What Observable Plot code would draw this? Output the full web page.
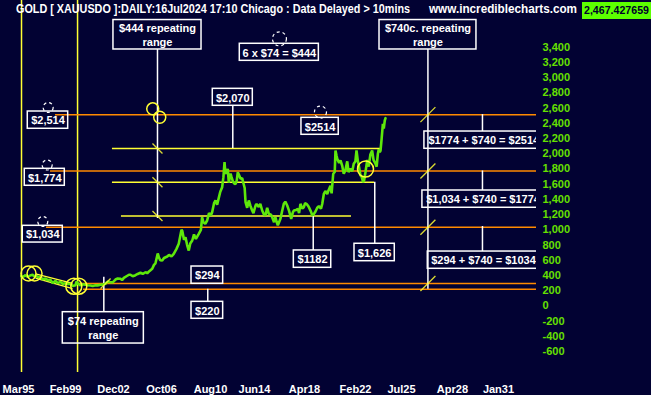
<!DOCTYPE html>
<html>
<head>
<meta charset="utf-8">
<script src="https://cdn.jsdelivr.net/npm/d3@7"></script>
<script src="https://cdn.jsdelivr.net/npm/@observablehq/plot@0.6"></script>
<style>
  html, body { margin: 0; padding: 0; background: #020233; }
  #wrap { position: relative; width: 651px; height: 395px; overflow: hidden; }
  .h { position: absolute; top: 2px; font: bold 12px "Liberation Sans", Arial, sans-serif; color: #fff;
       white-space: nowrap; transform-origin: 0 0; line-height: 15px; }
  #price { position: absolute; left: 582px; top: 2px; width: 69px; height: 17px; background: #5cff00; }
  #priceTxt { position: absolute; left: 2px; top: 2px; font: bold 11px "Liberation Sans", Arial, sans-serif;
       color: #00002a; white-space: nowrap; transform-origin: 0 0; line-height: 13px; }
</style>
</head>
<body>
<div id="wrap">
  <div id="chart"></div>
  <div id="title" class="h" style="left:16px"></div>
  <div id="site" class="h" style="left:429px"></div>
  <div id="price"><div id="priceTxt"></div></div>
</div>
<script>
// ---------- header texts ----------
const titleText = "GOLD [ XAUUSDO ]:DAILY:16Jul2024 17:10 Chicago : Data Delayed > 10mins";
const siteText = "www.incrediblecharts.com";
const lastPrice = "2,467.427659";

// ---------- price series (decimal year, USD) ----------
const years = [
  1995.39,1995.55,1995.73,1995.85,1995.97,1996.10,1996.29,1996.40,1996.53,1996.70,1996.93,
  1997.10,1997.33,1997.50,1997.73,1997.90,1998.13,1998.30,1998.53,1998.70,1998.93,
  1999.10,1999.33,1999.50,1999.73,1999.80,1999.95,2000.13,2000.30,2000.53,2000.70,2000.93,
  2001.10,2001.33,2001.50,2001.73,2001.90,2002.12,2002.30,2002.52,2002.70,2002.92,
  2003.10,2003.32,2003.45,2003.59,2003.80,2004.00,2004.12,2004.30,2004.52,2004.70,2004.92,
  2005.10,2005.32,2005.46,2005.65,2005.86,2006.00,2006.12,2006.30,2006.39,2006.50,2006.66,2006.80,
  2007.06,2007.20,2007.40,2007.58,2007.80,2007.98,2008.10,2008.20,2008.26,2008.40,2008.52,2008.65,2008.78,2008.90,
  2009.06,2009.20,2009.35,2009.58,2009.75,2009.85,2009.95,2010.10,2010.25,2010.40,2010.55,2010.65,2010.80,2010.92,
  2011.05,2011.18,2011.30,2011.45,2011.55,2011.64,2011.70,2011.80,2011.90,2011.98,
  2012.12,2012.20,2012.33,2012.45,2012.52,2012.62,2012.70,2012.80,2012.92,
  2013.05,2013.13,2013.25,2013.32,2013.45,2013.58,2013.70,2013.85,2013.95,
  2014.12,2014.20,2014.38,2014.50,2014.65,2014.80,2014.91,
  2015.05,2015.18,2015.35,2015.45,2015.60,2015.71,2015.80,2015.90,
  2016.00,2016.11,2016.25,2016.38,2016.50,2016.65,2016.80,2016.97,
  2017.10,2017.18,2017.35,2017.50,2017.60,2017.71,2017.85,2017.98,
  2018.08,2018.19,2018.30,2018.38,2018.55,2018.65,2018.75,2018.91,
  2019.05,2019.18,2019.35,2019.45,2019.58,2019.70,2019.85,2019.95,
  2020.11,2020.20,2020.33,2020.45,2020.51,2020.60,2020.65,2020.80,2020.91,
  2021.05,2021.17,2021.30,2021.45,2021.55,2021.71,2021.85,2021.97,
  2022.10,2022.19,2022.30,2022.37,2022.50,2022.60,2022.72,2022.80,2022.91,
  2023.05,2023.17,2023.30,2023.44,2023.55,2023.71,2023.80,2023.90,2023.97,
  2024.05,2024.11,2024.20,2024.30,2024.37,2024.45,2024.51
];
const prices = [
  391,384,404,388,387,400,409,392,396,384,373,
  352,360,340,343,300,330,300,317,290,299,
  288,288,262,273,320,288,269,285,278,272,269,
  262,273,270,278,280,291,320,312,310,347,
  360,357,340,368,390,410,410,390,404,420,436,
  420,443,430,460,488,540,560,690,640,600,597,630,
  650,670,650,685,750,817,920,1000,988,870,904,800,728,820,
  860,940,880,948,1000,1166,1100,1080,1123,1220,1190,1232,1350,1386,
  1330,1420,1500,1560,1692,1889,1760,1737,1802,1620,
  1740,1692,1626,1605,1600,1650,1758,1720,1671,
  1680,1626,1550,1363,1290,1386,1320,1254,1220,
  1320,1340,1300,1342,1254,1200,1189,
  1290,1211,1200,1166,1100,1166,1110,1060,
  1100,1145,1250,1342,1370,1320,1250,1145,
  1230,1254,1260,1276,1220,1342,1280,1298,
  1350,1342,1320,1298,1240,1190,1200,1240,
  1290,1310,1280,1340,1474,1510,1470,1517,
  1580,1480,1737,1760,2043,1970,1933,1880,1911,
  1840,1737,1780,1900,1760,1802,1770,1868,
  1900,2043,1900,1850,1720,1700,1626,1650,1760,
  1920,1830,1990,2043,1920,1868,1830,2000,2060,
  2020,2040,2200,2393,2330,2437,2467
];

// ---------- axis ticks ----------
const yTicks = [-600,-400,-200,0,200,400,600,800,1000,1200,1400,1600,1800,2000,2200,2400,2600,2800,3000,3200,3400];
const xTickYears = [1995.17,1998.93,2002.76,2006.60,2010.52,2014.03,2018.03,2022.11,2025.79,2029.86,2033.54];
const xTickLabels = ["Mar95","Feb99","Dec02","Oct06","Aug10","Jun14","Apr18","Feb22","Jul25","Apr28","Jan31"];

// ---------- annotation levels ----------
const orangeLevels = [2514, 1774, 1034, 294, 220];
const orangeFrom   = [1998.13, 1997.73, 1997.41, 1999.97, 2000.37];
const yellowLevels = [2070, 1626, 1182];
const yellowFrom   = [2002.68, 2002.68, 2003.40];
const yellowTo     = [2024.11, 2023.63, 2021.79];
const yellowVerticals = [1995.41, 1999.89];

// labelled boxes
const boxLabels = ["$444 repeating\nrange","$740c. repeating\nrange","6 x $74 = $444","$2,070","$2514",
                   "$2,514","$1,774","$1,034","$294","$220","$1182","$1,626","$74 repeating\nrange"];
const boxX1 = [2002.76,2024.03,2012.86,2010.70,2017.79,1995.91,1995.67,1995.51,2009.00,2009.00,2017.18,2022.03,1998.71];
const boxX2 = [2009.80,2031.78,2019.18,2013.90,2020.77,1999.14,1998.87,1998.71,2011.53,2011.53,2020.17,2025.25,2005.19];
const boxTop = [3757,3757,3445,2853,2472,2555,1802,1053,518,54,729,817,-82];
const boxBot = [3370,3370,3221,2630,2249,2328,1579,833,291,-169,501,588,-494];

// right-hand sums (boxes cut at the plot edge)
const sumLabels = ["$1774 + $740 = $2514","$1,034 + $740 = $1774","$294 + $740 = $1034"];
const sumX1 = [2027.62, 2027.46, 2027.89];
const sumTextX = [2027.94, 2027.76, 2028.16];
const sumTop = [2292, 1517, 715];
const sumBot = [2065, 1290, 488];

// white connectors
const connX  = [2006.28,2027.90,2012.30,2018.73,2023.65,2010.30,2001.99,2032.26,2032.26,2032.26];
const connV1 = [3370,3370,2630,1182,1626,220,378,2514,1774,1044];
const connV2 = [1149,220,2070,729,817,54,-82,2292,1517,715];

// yellow circles
const ringX = [2005.90,2006.46,1995.97,1996.45,1999.59,1999.99,2022.91];
const ringV = [2590,2480,426,426,259,259,1799];
const ringR = [6,6,7.5,7.5,8,8,8];

// dashed white circles
const dashX = [1997.54,1997.46,1997.11,2016.03,2019.31];
const dashV = [2608,1852,1110,3510,2548];
const dashR = [5,5,5,7,6];

// slash marks: centre, direction (+1 = "/", -1 = "\"), half size in px
const slashX = [2006.28,2006.28,2006.28,2027.90,2027.90,2027.90,2027.90,2002.13];
const slashV = [2070,1626,1182,2514,1774,1034,294,294];
const slashDir = [-1,-1,-1,1,1,1,1,1];
const slashHalf = [5,5,5,7.5,7.5,7.5,7.5,5];

// channel lines
const chanX1 = [1996.53,1996.53], chanV1 = [420,367];
const chanX2 = [1999.49,1999.49], chanV2 = [295,229];

// ---------- build ----------
const navy = "#020233", orange = "#ff8a00", yellow = "#ffff33", green = "#5ee80a", axisGreen = "#66e000";
const W = 651, H = 395, mL = 0, mR = 115, mT = 0, mB = 23;
const xMin = 1993.73, xMax = 2036.58, yMin = -874.6, yMax = 4013.7;
const pxYr = (xMax - xMin) / (W - mL - mR);
const pxV = (yMax - yMin) / (H - mT - mB);

const gold = years.map((t, i) => ({t, p: prices[i]}));
const oLines = orangeLevels.map((v, i) => ({v, x1: orangeFrom[i]}));
const yLines = yellowLevels.map((v, i) => ({v, x1: yellowFrom[i], x2: yellowTo[i]}));
const boxes = boxLabels.map((label, i) => ({label, x1: boxX1[i], x2: boxX2[i], y1: boxBot[i], y2: boxTop[i]}));
const sums = sumLabels.map((label, i) => ({label, x1: sumX1[i], tx: sumTextX[i], y1: sumBot[i], y2: sumTop[i]}));
const conns = connX.map((x, i) => ({x, y1: connV1[i], y2: connV2[i]}));
const rings = ringX.map((x, i) => ({x, y: ringV[i], r: ringR[i]}));
const dashes = dashX.map((x, i) => ({x, y: dashV[i], r: dashR[i]}));
const slashes = slashX.map((x, i) => {
  const h = slashHalf[i], d = slashDir[i];
  return {x1: x - h * pxYr, x2: x + h * pxYr, y1: slashV[i] - d * h * pxV, y2: slashV[i] + d * h * pxV};
});
const chans = chanX1.map((x, i) => ({x1: x, y1: chanV1[i], x2: chanX2[i], y2: chanV2[i]}));

const chart = Plot.plot({
  width: W, height: H,
  marginLeft: mL, marginRight: mR, marginTop: mT, marginBottom: mB,
  style: {background: navy, color: "#fff", fontFamily: "'Liberation Sans', Arial, sans-serif", fontSize: "11px", fontWeight: "bold", overflow: "visible"},
  x: {domain: [xMin, xMax], axis: null},
  y: {domain: [yMin, yMax], axis: null},
  r: {type: "identity"},
  marks: [
    Plot.axisY(yTicks, {anchor: "right", tickSize: 0, tickPadding: 6, fill: axisGreen, fontWeight: "bold",
      tickFormat: d => d.toLocaleString("en-US"), label: null}),
    Plot.axisX(xTickYears, {anchor: "bottom", tickSize: 0, tickPadding: 13, fill: "#fff", fontWeight: "bold",
      tickFormat: d => xTickLabels[xTickYears.indexOf(d)], label: null}),
    Plot.ruleX(yellowVerticals, {stroke: yellow, strokeWidth: 1.5}),
    Plot.ruleY(oLines, {y: "v", x1: "x1", x2: xMax, stroke: orange, strokeWidth: 1.5}),
    Plot.ruleY(yLines, {y: "v", x1: "x1", x2: "x2", stroke: yellow, strokeWidth: 1.5}),
    Plot.ruleX(conns, {x: "x", y1: "y1", y2: "y2", stroke: "#fff", strokeWidth: 1.5}),
    Plot.link(chans, {x1: "x1", y1: "y1", x2: "x2", y2: "y2", stroke: yellow, strokeWidth: 1.3}),
    Plot.line(gold, {x: "t", y: "p", stroke: green, strokeWidth: 2.6, strokeLinejoin: "miter"}),
    Plot.link(slashes, {x1: "x1", y1: "y1", x2: "x2", y2: "y2", stroke: yellow, strokeWidth: 1.3, strokeOpacity: 0.85}),
    Plot.dot(rings, {x: "x", y: "y", r: "r", stroke: yellow, strokeWidth: 1.5, fill: "none"}),
    Plot.dot(dashes, {x: "x", y: "y", r: "r", stroke: "#fff", strokeWidth: 1.2, strokeDasharray: "3,3", fill: "none"}),
    Plot.rect(boxes, {x1: "x1", x2: "x2", y1: "y1", y2: "y2", stroke: "#fff", strokeWidth: 1.5, fill: "none"}),
    Plot.text(boxes, {x: d => (d.x1 + d.x2) / 2, y: d => (d.y1 + d.y2) / 2, text: "label", fill: "#fff",
      fontSize: 11, fontWeight: "bold", lineHeight: 1.2, lineAnchor: "middle"}),
    Plot.rect(sums, {x1: "x1", x2: xMax + 1, y1: "y1", y2: "y2", stroke: "#fff", strokeWidth: 1.5, fill: "none", clip: true}),
    Plot.text(sums, {x: "tx", y: d => (d.y1 + d.y2) / 2, text: "label", fill: "#fff", textAnchor: "start",
      fontSize: 11, fontWeight: "bold", lineAnchor: "middle", clip: true})
  ]
});
document.getElementById("chart").append(chart);

// header
function fitText(el, text, w) {
  el.textContent = text;
  const r = el.getBoundingClientRect().width;
  if (r > 0) el.style.transform = `scaleX(${w / r})`;
}
fitText(document.getElementById("title"), titleText, 394);
fitText(document.getElementById("site"), siteText, 148);
fitText(document.getElementById("priceTxt"), lastPrice, 65);
</script>
</body>
</html>
